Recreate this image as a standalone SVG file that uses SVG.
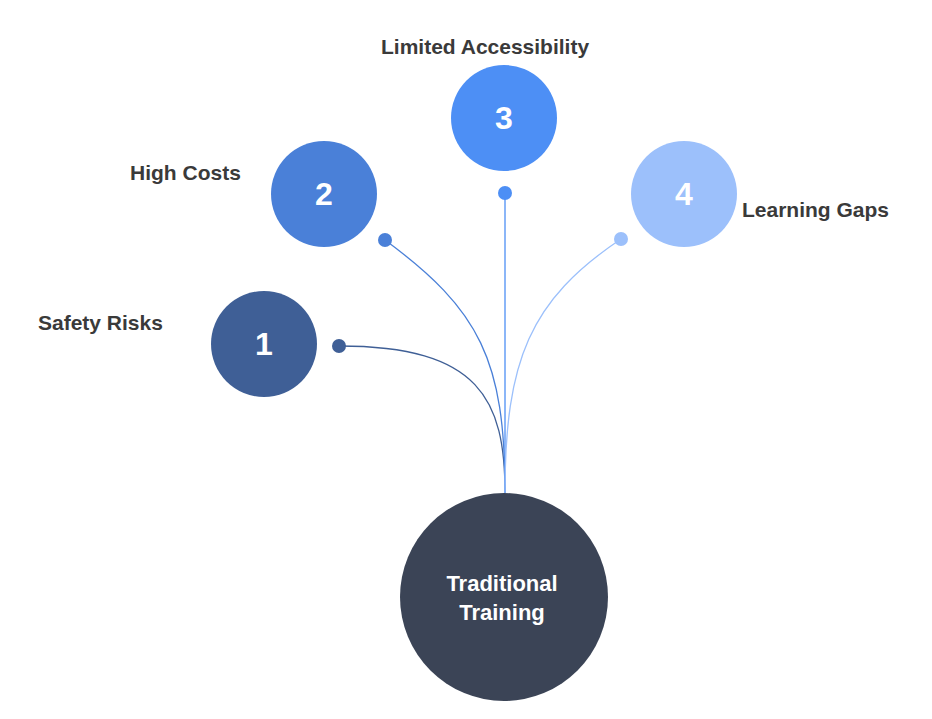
<svg xmlns="http://www.w3.org/2000/svg" width="932" height="719" viewBox="0 0 932 719">
<style>
.lbl{font-family:"Liberation Sans",Arial,sans-serif;font-weight:bold;font-size:21px;fill:#3a3a3a}
.num{font-family:"Liberation Sans",Arial,sans-serif;font-weight:bold;font-size:32px;fill:#fff;text-anchor:middle}
.main{font-family:"Liberation Sans",Arial,sans-serif;font-weight:bold;font-size:22px;fill:#fff;text-anchor:middle}
path{fill:none;stroke-width:1.3}
</style>
<rect width="932" height="719" fill="#fff"/>
<g id="connectors">
<path d="M339,346 C480,346 505,400 505,493" stroke="#3f5f96"/>
<path d="M385,240 C480,310 505,360 505,493" stroke="#4a80d8"/>
<path d="M505,193 L505,493" stroke="#4d8ff5"/>
<path d="M621,239 C530,300 505,360 505,493" stroke="#9cc0fb"/>
<circle cx="339" cy="346" r="7" fill="#3f5f96"/>
<circle cx="385" cy="240" r="7" fill="#4a80d8"/>
<circle cx="505" cy="193" r="7" fill="#4d8ff5"/>
<circle cx="621" cy="239" r="7" fill="#9cc0fb"/>
</g>
<g id="n1"><circle cx="264" cy="344" r="53" fill="#3f5f96"/><text class="num" x="264" y="355">1</text><text class="lbl" x="38" y="330">Safety Risks</text></g>
<g id="n2"><circle cx="324" cy="194" r="53" fill="#4a80d8"/><text class="num" x="324" y="205">2</text><text class="lbl" x="130" y="180">High Costs</text></g>
<g id="n3"><circle cx="504" cy="118" r="53" fill="#4d8ff5"/><text class="num" x="504" y="129">3</text><text class="lbl" x="381" y="54">Limited Accessibility</text></g>
<g id="n4"><circle cx="684" cy="194" r="53" fill="#9cc0fb"/><text class="num" x="684" y="205">4</text><text class="lbl" x="742" y="217">Learning Gaps</text></g>
<g id="main"><circle cx="504" cy="597" r="104" fill="#3b4456"/><text class="main" x="502" y="591">Traditional</text><text class="main" x="502" y="620">Training</text></g>
</svg>
